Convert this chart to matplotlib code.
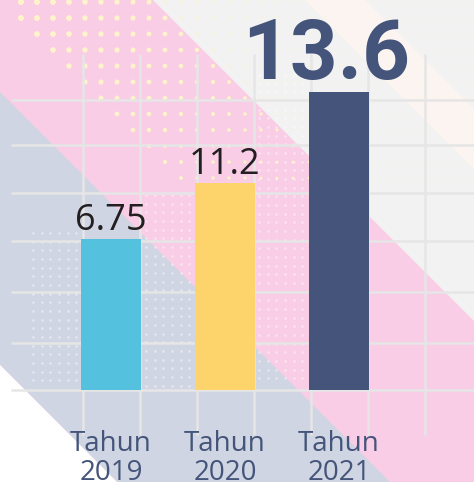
import numpy as np
import matplotlib
matplotlib.use("Agg")
import matplotlib.pyplot as plt
from matplotlib.patches import Polygon
from matplotlib.colors import to_rgba

# data
years = ["2019", "2020", "2021"]
tick_labels = ["Tahun\n2019", "Tahun\n2020", "Tahun\n2021"]
value_labels = ["6.75", "11.2", "13.6"]
# bar heights as drawn in the picture (same units as the labels)
bar_heights = [6.84, 9.39, 13.52]
bar_colors = ["#54c2de", "#fdd46b", "#44547a"]
grid_y = [0, 2.1, 4.45, 6.75, 8.95, 11.1, 13.15]
grid_x = [-0.25, 0.25, 0.75, 1.25, 1.75, 2.25, 2.75]

W, H = 474, 482
fig = plt.figure(figsize=(W / 100, H / 100), dpi=100)

# background decoration, pixel coords (y down)
bg = fig.add_axes([0, 0, 1, 1])
bg.set_xlim(0, W)
bg.set_ylim(H, 0)
bg.axis("off")
bg.add_patch(Polygon([(0, 0), (W, 0), (W, H), (0, H)], color="#f3f2f3", lw=0))
bg.add_patch(Polygon([(305, 0), (365, 0), (W, 109), (W, 169)], color="#fbf4f1", lw=0))
bg.add_patch(Polygon([(0, 0), (153, 0), (W, 321), (W, H), (0, H)], color="#f9cde6", lw=0))
bg.add_patch(Polygon([(0, 92), (390, H), (117, H), (0, 365)], color="#cfd5e2", lw=0))
bg.add_patch(Polygon([(0, 365), (117, H), (0, H)], color="#ffffff", lw=0))

# yellow dot pattern top left
dx, dy = np.meshgrid(np.arange(21, 470, 16), np.arange(2, 180, 16))
dx, dy = dx.ravel(), dy.ravel()
keep = (dx - dy >= 3) | (dy < 10)
dx, dy = dx[keep], dy[keep]
dist = np.hypot(dx - 21, dy - 2)
sizes = np.clip(19 - dist / 20, 4, 19)
on_pink = (dx - dy) < 150
cols = np.array([to_rgba("#fff7c6", 0.95 if p else 0.3) for p in on_pink])
bg.scatter(dx, dy, s=sizes, c=cols, linewidths=0, zorder=2)

# small light dots
for x0, x1, y0 in [(33, 79, 233), (146, 193, 195), (259, 306, 75)]:
    gx, gy = np.meshgrid(np.arange(x0, x1, 8.67), np.arange(y0, 386, 8.67))
    bg.scatter(gx.ravel(), gy.ravel(), s=3.5, c="#ffffff", alpha=0.45,
               linewidths=0, zorder=2)

# main chart
ax = fig.add_axes([0, 0, 1, 1])
ax.patch.set_alpha(0)
ax.axis("off")
ax.set_xlim(-111 / 114, (W - 111) / 114)
ax.set_ylim(-92.5 / 22, (H - 92.5) / 22)

ax.hlines(grid_y, -0.877, 3.2, color="#e6e6e6", lw=1.8, zorder=1)
ax.vlines(grid_x, -2.07, 15.25, color="#e6e6e6", lw=1.8, zorder=1)

x = np.arange(len(years))
ax.bar(x, bar_heights, width=0.526, color=bar_colors, zorder=3)

for i in range(2):
    ax.text(x[i], bar_heights[i] + 0.41, value_labels[i], ha="center",
            va="baseline", fontsize=26, color="#231f20",
            family=["Open Sans", "DejaVu Sans"], zorder=4)
ax.text(x[2] - 0.115, bar_heights[2] + 0.6, value_labels[2], ha="center",
        va="baseline", fontsize=60, fontweight="bold", color="#44547a",
        family=["Roboto", "DejaVu Sans"], zorder=4)

for i, lab in enumerate(tick_labels):
    ax.text(x[i], -4.1, lab, ha="center", va="baseline", fontsize=20,
            color="#44547a", linespacing=1.03,
            family=["Open Sans", "DejaVu Sans"], zorder=4)

fig.savefig("out.png", dpi=100)
